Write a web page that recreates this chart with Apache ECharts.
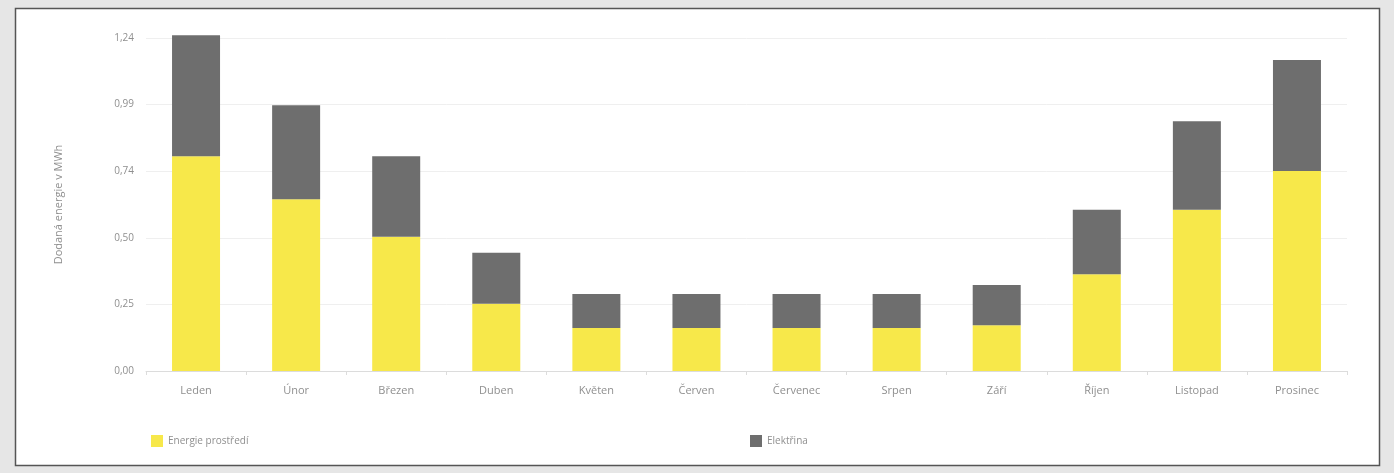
<!DOCTYPE html>
<html>
<head>
<meta charset="utf-8">
<script src="https://cdn.jsdelivr.net/npm/echarts@6/dist/echarts.min.js"></script>
<style>
html,body{margin:0;padding:0;background:#e6e6e6;}
#chart{width:1394px;height:473px;}
</style>
</head>
<body>
<div id="chart"></div>
<script>
var months = ['Leden','Únor','Březen','Duben','Květen','Červen','Červenec','Srpen','Září','Říjen','Listopad','Prosinec'];
var energieProstredi = [0.80, 0.64, 0.50, 0.25, 0.16, 0.16, 0.16, 0.16, 0.17, 0.36, 0.60, 0.745];
var elektrina = [0.45, 0.35, 0.30, 0.19, 0.127, 0.127, 0.127, 0.127, 0.15, 0.24, 0.33, 0.413];
var yMax = 1.24;
var yStep = 0.248;

var myChart = echarts.init(document.getElementById('chart'));
var txt = '#8f8f8f';
var option = {
    backgroundColor: '#e6e6e6',
    animation: false,
    textStyle: {fontFamily: 'Open Sans'},
    graphic: [{
        type: 'rect',
        z: -10,
        shape: {x: 15.5, y: 8.5, width: 1364, height: 457},
        style: {fill: '#fff', stroke: '#555', lineWidth: 1.5}
    }],
    grid: {left: 146, right: 47, top: 38, bottom: 102},
    legend: [{
        left: 146, top: 430,
        itemWidth: 12, itemHeight: 12, icon: 'rect',
        textStyle: {color: txt, fontSize: 10},
        data: ['Energie prostředí']
    }, {
        left: 745, top: 430,
        itemWidth: 12, itemHeight: 12, icon: 'rect',
        textStyle: {color: txt, fontSize: 10},
        data: ['Elektřina']
    }],
    xAxis: {
        type: 'category',
        data: months,
        axisLine: {lineStyle: {color: '#dcdcdc'}},
        axisTick: {show: true, lineStyle: {color: '#dcdcdc'}, length: 4},
        axisLabel: {color: txt, fontSize: 11, margin: 14}
    },
    yAxis: {
        type: 'value',
        min: 0, max: yMax, interval: yStep,
        name: 'Dodaná energie v MWh',
        nameLocation: 'middle',
        nameGap: 82,
        nameTextStyle: {color: txt, fontSize: 11},
        axisLabel: {
            color: txt, fontSize: 10, margin: 12,
            formatter: function (v) { return v.toFixed(2).replace('.', ','); }
        },
        splitLine: {lineStyle: {color: '#efefef'}}
    },
    series: [{
        name: 'Energie prostředí',
        type: 'bar',
        stack: 'total',
        barWidth: 48,
        clip: false,
        itemStyle: {color: '#f7e84a'},
        data: energieProstredi
    }, {
        name: 'Elektřina',
        type: 'bar',
        stack: 'total',
        barWidth: 48,
        clip: false,
        itemStyle: {color: '#6e6e6e'},
        data: elektrina
    }]
};
myChart.setOption(option);
</script>
</body>
</html>
